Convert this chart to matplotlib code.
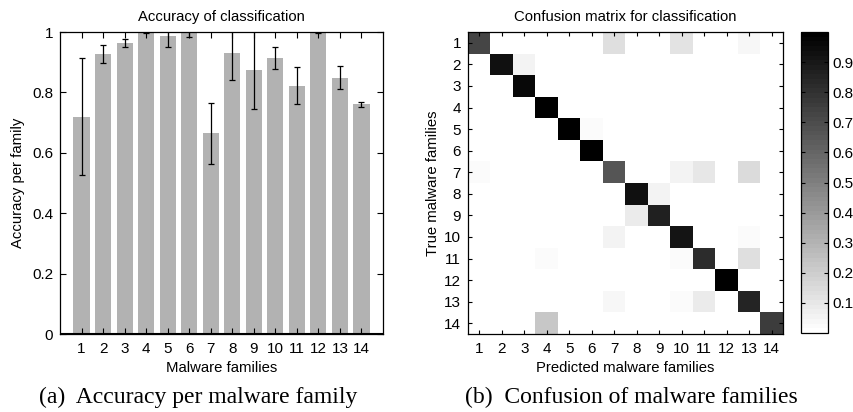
import numpy as np
import matplotlib
matplotlib.use("Agg")
import matplotlib.pyplot as plt
from matplotlib.colors import ListedColormap

plt.rcParams['font.family'] = ['Liberation Sans', 'DejaVu Sans']

families = list(range(1, 15))
accuracy = [0.720, 0.927, 0.963, 0.998, 0.986, 0.998, 0.664, 0.930, 0.874, 0.914, 0.822, 0.998, 0.848, 0.760]
acc_err = [0.195, 0.029, 0.013, 0.002, 0.036, 0.014, 0.102, 0.088, 0.129, 0.035, 0.062, 0.002, 0.038, 0.008]

# confusion matrix entries: (true row, predicted col, value)
cm_diag = [0.72, 0.93, 0.96, 1.00, 0.99, 1.00, 0.67, 0.93, 0.87, 0.91, 0.82, 1.00, 0.85, 0.76]
cm_off_rows = [1, 1, 1, 2, 5, 7, 7, 7, 7, 8, 9, 10, 10, 11, 11, 11, 13, 13, 13, 14]
cm_off_cols = [7, 10, 13, 3, 6, 1, 10, 11, 13, 9, 8, 7, 13, 4, 10, 13, 7, 10, 11, 4]
cm_off_vals = [0.14, 0.12, 0.04, 0.06, 0.02, 0.02, 0.05, 0.10, 0.15, 0.06, 0.09, 0.06, 0.03, 0.02, 0.03, 0.14, 0.04, 0.03, 0.09, 0.23]
cbar_ticks = [0.1, 0.2, 0.3, 0.4, 0.5, 0.6, 0.7, 0.8, 0.9]

n = len(families)
conf = np.zeros((n, n))
for i, v in enumerate(cm_diag):
    conf[i, i] = v
for r, c, v in zip(cm_off_rows, cm_off_cols, cm_off_vals):
    conf[r - 1, c - 1] = v

fig = plt.figure(figsize=(8.54, 4.12), dpi=100)
W, H = 854, 412

def ax_rect(x0, y0, x1, y1):
    return [x0 / W, 1 - y1 / H, (x1 - x0) / W, (y1 - y0) / H]

LBL = 10.7
TCK = 11

# left: bar chart
ax1 = fig.add_axes(ax_rect(60, 32, 383, 334))
ax1.bar(families, accuracy, width=0.75, color='#b2b2b2', zorder=1)
ax1.errorbar(families, accuracy, yerr=acc_err, fmt='none', ecolor='black',
             elinewidth=0.9, capsize=2.5, capthick=0.9, zorder=2)
ax1.set_xlim(0, 15)
ax1.set_ylim(0, 1)
ax1.set_xticks(families)
ax1.set_yticks([0, 0.2, 0.4, 0.6, 0.8, 1.0])
ax1.set_yticklabels(['0', '0.2', '0.4', '0.6', '0.8', '1'])
ax1.tick_params(direction='in', top=True, right=True, length=4, width=0.8, labelsize=TCK, pad=5)
ax1.tick_params(axis='x', pad=6)
ax1.set_title('Accuracy of classification', fontsize=LBL, pad=8)
ax1.set_xlabel('Malware families', fontsize=LBL, labelpad=3)
ax1.set_ylabel('Accuracy per family', fontsize=LBL, labelpad=5)
for s in ax1.spines.values():
    s.set_linewidth(0.9)
ax1.axhline(0, color='black', linewidth=1.5, zorder=3)

# right: confusion matrix
cmap = ListedColormap(plt.get_cmap('gray_r')(np.linspace(0, 1, 64)))
ax2 = fig.add_axes(ax_rect(468, 32, 783, 334))
im = ax2.imshow(conf, cmap=cmap, vmin=0, vmax=1, aspect='auto',
                interpolation='nearest', extent=(0.5, n + 0.5, n + 0.5, 0.5))
ax2.set_xticks(families)
ax2.set_yticks(families)
ax2.tick_params(direction='in', top=True, right=True, length=3, width=0.8, labelsize=TCK, pad=5)
ax2.tick_params(axis='x', pad=6)
ax2.set_title('Confusion matrix for classification', fontsize=LBL, pad=8)
ax2.set_xlabel('Predicted malware families', fontsize=LBL, labelpad=3)
ax2.set_ylabel('True malware families', fontsize=LBL, labelpad=3)
for s in ax2.spines.values():
    s.set_linewidth(0.9)

cax = fig.add_axes(ax_rect(801, 32, 828, 333))
cb = fig.colorbar(im, cax=cax, ticks=cbar_ticks)
cb.ax.tick_params(direction='in', left=True, right=True, length=3, width=0.8, labelsize=TCK, pad=3)
cb.set_ticklabels([f'{t:g}' for t in cbar_ticks])
cb.outline.set_linewidth(0.9)

# captions
fig.text(198 / W, 1 - 397 / H, '(a)  Accuracy per malware family', ha='center', va='center',
         fontsize=17, family=['Liberation Serif', 'DejaVu Serif'])
fig.text(631 / W, 1 - 397 / H, '(b)  Confusion of malware families', ha='center', va='center',
         fontsize=17, family=['Liberation Serif', 'DejaVu Serif'])

fig.savefig('out.png', dpi=100)
